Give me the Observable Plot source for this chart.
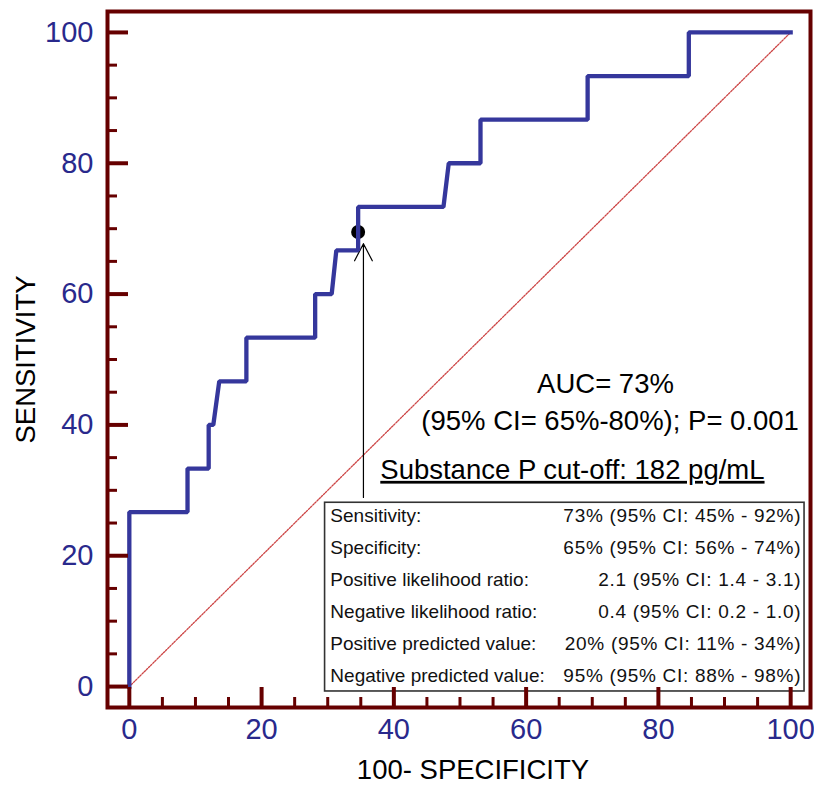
<!DOCTYPE html>
<html>
<head>
<meta charset="utf-8">
<script src="https://cdn.jsdelivr.net/npm/d3@7"></script>
<script src="https://cdn.jsdelivr.net/npm/@observablehq/plot@0.6"></script>
<style>
  html, body { margin: 0; padding: 0; background: #fff; }
</style>
</head>
<body>
<div id="chart"></div>
<script>
// ROC curve (100 - specificity, sensitivity)
const fpr = [0, 0, 8.8, 8.8, 12, 12, 12.7, 13.6, 17.7, 17.7, 28.1, 28.1, 30.6, 31.3, 34.6, 34.6, 47.5, 48.3, 53.1, 53.1, 69.3, 69.3, 84.6, 84.6, 100];
const tpr = [0, 26.67, 26.67, 33.33, 33.33, 40, 40, 46.67, 46.67, 53.33, 53.33, 60, 60, 66.67, 66.67, 73.33, 73.33, 80, 80, 86.67, 86.67, 93.33, 93.33, 100, 100];

// reference diagonal
const diagX = [0, 100];
const diagY = [0, 100];

// tick values
const majorTicks = [0, 20, 40, 60, 80, 100];
const minorTicks = [5, 10, 15, 25, 30, 35, 45, 50, 55, 65, 70, 75, 85, 90, 95];

// axis titles
const xTitle = "100- SPECIFICITY";
const yTitle = "SENSITIVITY";

// criterion point and arrow
const cutPoint = {x: 34.6, y: 69.5};
const arrowInfo = {x: 35.4, yFrom: 28.9, yTo: 67.7};

// annotation text lines
const annLines = ["AUC= 73%", "(95% CI= 65%-80%); P= 0.001", "Substance P cut-off: 182 pg/mL"];
const annX = [72.0, 72.7, 67.0];
const annY = [46.2, 40.5, 33.1];

// table of statistics
const tableLabels = ["Sensitivity:", "Specificity:", "Positive likelihood ratio:", "Negative likelihood ratio:", "Positive predicted value:", "Negative predicted value:"];
const tableValues = ["73% (95% CI: 45% - 92%)", "65% (95% CI: 56% - 74%)", "2.1 (95% CI: 1.4 - 3.1)", "0.4 (95% CI: 0.2 - 1.0)", "20% (95% CI: 11% - 34%)", "95% (95% CI: 88% - 98%)"];
const tableBox = {x1: 29.6, x2: 102.1, y1: -0.75, y2: 28.1};
const tableLabelX = 30.4, tableValueX = 101.6, tableTopY = 26.1, tableStep = 4.89;

const roc = fpr.map((x, i) => ({x, y: tpr[i]}));
const diag = diagX.map((x, i) => ({x, y: diagY[i]}));
const ann = annLines.map((t, i) => ({t, x: annX[i], y: annY[i]}));
const table = tableLabels.map((l, i) => ({l, v: tableValues[i], y: tableTopY - i * tableStep}));

const W = 814, H = 795;
const mL = 107, mR = 4, mT = 11, mB = 88;
const plotW = W - mL - mR, plotH = H - mT - mB;
const frameColor = "#660000";
const blue = "#29298c";
const curveBlue = "#35379c";
const font = "'Liberation Sans', Arial, sans-serif";

const chart = Plot.plot({
  width: W,
  height: H,
  marginLeft: mL,
  marginRight: mR,
  marginTop: mT,
  marginBottom: mB,
  style: {fontFamily: font, background: "#fff"},
  x: {domain: [-3.3, 103], axis: null},
  y: {domain: [-3.2, 103.2], axis: null},
  marks: [
    // diagonal reference line
    Plot.line(diag, {x: "x", y: "y", stroke: "#cc4444", strokeWidth: 1.3, strokeDasharray: "1.6,1.4"}),
    // stats table box
    Plot.rect([tableBox], {x1: "x1", x2: "x2", y1: "y1", y2: "y2", fill: "#fff", stroke: "#333", strokeWidth: 1.6}),
    Plot.text(table, {x: tableLabelX, y: "y", text: "l", textAnchor: "start", fontSize: 19, fill: "#111", fontFamily: font}),
    Plot.text(table, {x: tableValueX, y: "y", text: "v", textAnchor: "end", fontSize: 19, fill: "#111", fontFamily: font}),
    // annotation
    Plot.text(ann, {x: "x", y: "y", text: "t", fontSize: 27.5, fill: "#000", fontFamily: font}),
    // arrow to criterion
    Plot.arrow([arrowInfo], {x1: "x", x2: "x", y1: "yFrom", y2: "yTo", stroke: "#000", strokeWidth: 1.2, headLength: 24, headAngle: 55}),
    // criterion point
    Plot.dot([cutPoint], {x: "x", y: "y", r: 7, fill: "#000"}),
    // ROC curve
    Plot.line(roc, {x: "x", y: "y", stroke: curveBlue, strokeWidth: 4.3, strokeLinejoin: "miter", strokeLinecap: "square"}),
    // ticks (inward)
    Plot.tickX(majorTicks, {x: d => d, stroke: frameColor, strokeWidth: 4, insetTop: plotH - 20}),
    Plot.tickX(minorTicks, {x: d => d, stroke: frameColor, strokeWidth: 3, insetTop: plotH - 10}),
    Plot.tickY(majorTicks, {y: d => d, stroke: frameColor, strokeWidth: 4, insetRight: plotW - 21}),
    Plot.tickY(minorTicks, {y: d => d, stroke: frameColor, strokeWidth: 3, insetRight: plotW - 10}),
    // frame
    Plot.frame({stroke: frameColor, strokeWidth: 4}),
    // tick labels
    Plot.text(majorTicks, {x: d => d, frameAnchor: "bottom", dy: 31, text: d => String(d), fontSize: 29, fill: blue, fontFamily: font}),
    Plot.text(majorTicks, {y: d => d, frameAnchor: "left", dx: -14, textAnchor: "end", text: d => String(d), fontSize: 29, fill: blue, fontFamily: font}),
    // axis titles
    Plot.text([xTitle], {frameAnchor: "bottom", dx: 14, dy: 71, textAnchor: "middle", fontSize: 27.5, fill: "#000", fontFamily: font}),
    Plot.text([yTitle], {frameAnchor: "left", dx: -81, rotate: -90, textAnchor: "middle", fontSize: 27.5, fill: "#000", fontFamily: font})
  ]
});

d3.select(chart).selectAll("text")
  .filter(function() { return this.textContent.startsWith("Substance"); })
  .attr("text-decoration", "underline");

const valueSet = new Set(tableValues);
d3.select(chart).selectAll("text")
  .filter(function() { return valueSet.has(this.textContent); })
  .style("letter-spacing", "0.7px");

document.getElementById("chart").appendChild(chart);
</script>
</body>
</html>
